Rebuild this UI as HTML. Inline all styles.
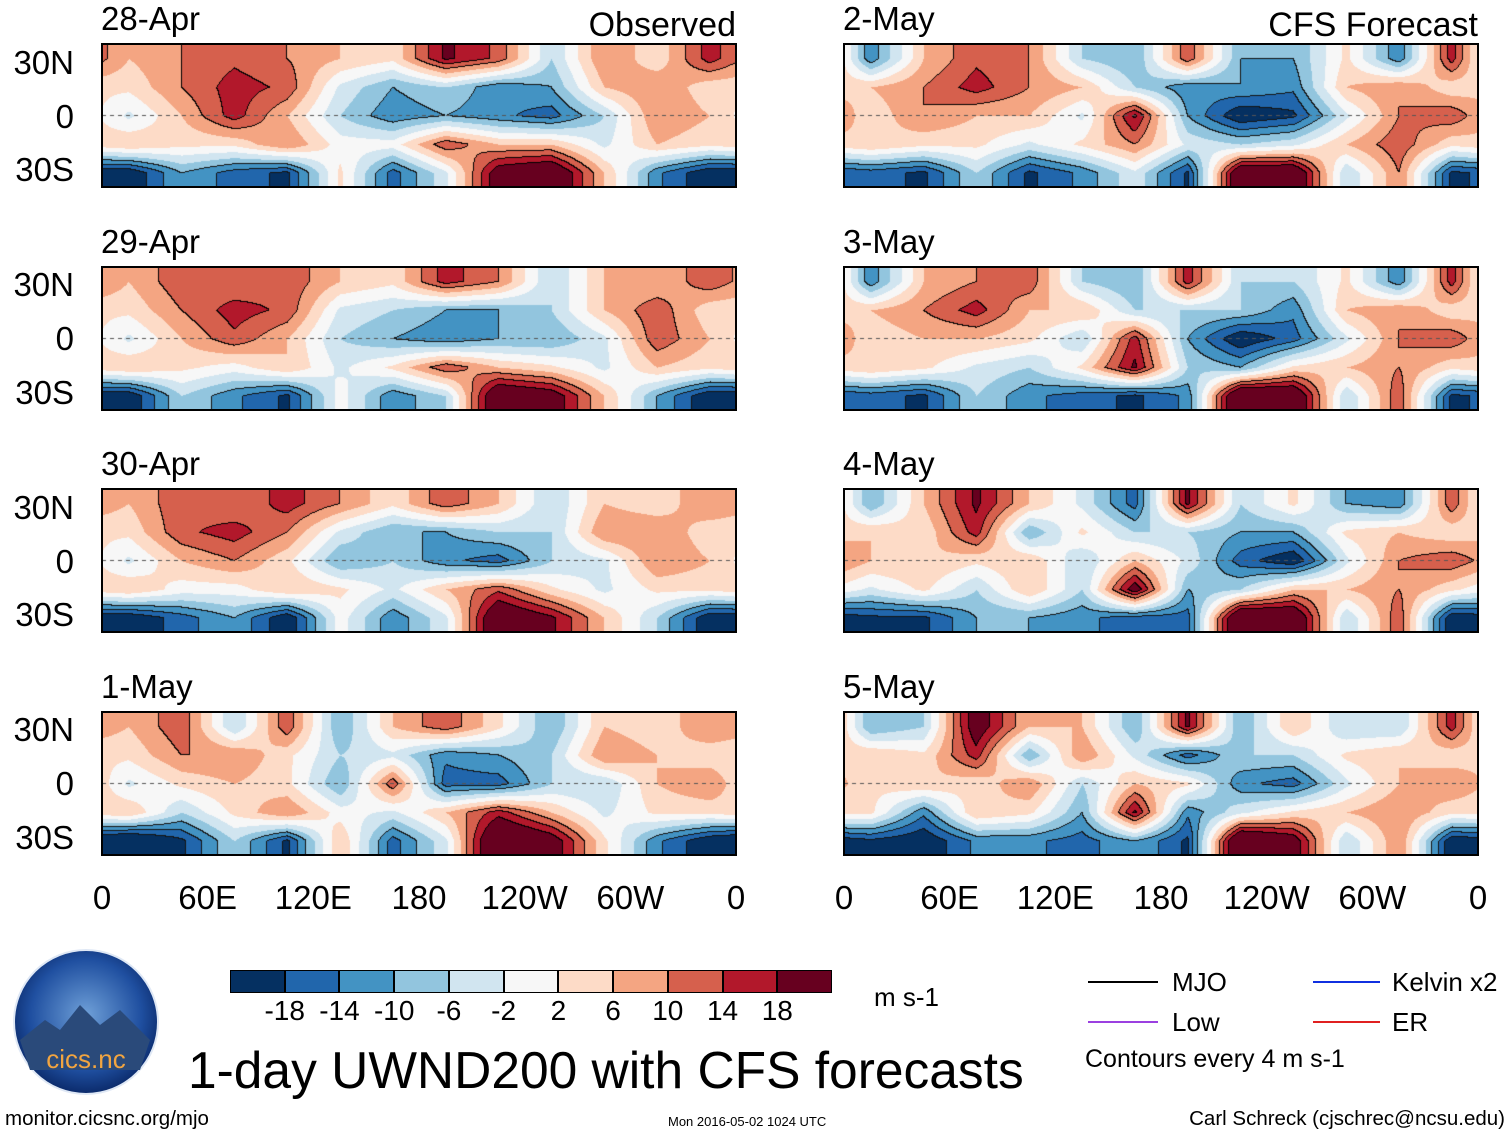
<!DOCTYPE html>
<html><head><meta charset="utf-8">
<style>
body{margin:0;background:#fff;width:1510px;height:1137px;position:relative;overflow:hidden;font-family:"Liberation Sans",sans-serif;color:#000}
.t{position:absolute;white-space:nowrap;line-height:1}
canvas{position:absolute}
.frame{position:absolute;border:2px solid #000;box-sizing:border-box}
</style></head><body>
<svg id="legend" width="1510" height="1137" style="position:absolute;left:0;top:0">
 <defs><radialGradient id="lg" cx="50%" cy="45%" r="55%"><stop offset="0" stop-color="#6fa0d8"/><stop offset="0.7" stop-color="#1f4fa0"/><stop offset="1" stop-color="#0b2a6a"/></radialGradient></defs>
 <g>
  <circle cx="86" cy="1022" r="72" fill="url(#lg)" stroke="#dfe8f5" stroke-width="2"/>
  <path d="M20 1040 L45 1020 L60 1030 L80 1005 L100 1025 L120 1010 L150 1040 L140 1070 L30 1070Z" fill="#2a4a7a"/>
  <text x="86" y="1068" font-size="26" fill="#f2a540" text-anchor="middle" font-family="Liberation Sans">cics.nc</text>
 </g>
 <line x1="1088" y1="982" x2="1158" y2="982" stroke="#000" stroke-width="2"/>
 <line x1="1088" y1="1022" x2="1158" y2="1022" stroke="#9b40e0" stroke-width="2"/>
 <line x1="1313" y1="982" x2="1380" y2="982" stroke="#1030e0" stroke-width="2"/>
 <line x1="1313" y1="1022" x2="1380" y2="1022" stroke="#e02020" stroke-width="2"/>
</svg>
<div class="t" style="left:1172px;top:969px;font-size:26px">MJO</div>
<div class="t" style="left:1172px;top:1009px;font-size:26px">Low</div>
<div class="t" style="left:1392px;top:969px;font-size:26px">Kelvin x2</div>
<div class="t" style="left:1392px;top:1009px;font-size:26px">ER</div>
<div class="t" style="left:1085px;top:1047px;font-size:25px">Contours every 4 m s-1</div>
<div class="t" style="left:188px;top:1045px;font-size:51.5px">1-day UWND200 with CFS forecasts</div>
<div class="t" style="left:874px;top:984px;font-size:26px">m s-1</div>
<div class="t" style="left:5px;top:1109px;font-size:20.5px">monitor.cicsnc.org/mjo</div>
<div class="t" style="left:668px;top:1115px;font-size:13px">Mon 2016-05-02 1024 UTC</div>
<div class="t" style="right:5px;top:1109px;font-size:20.5px">Carl Schreck (cjschrec@ncsu.edu)</div>
<script>
const dates=["28-Apr","29-Apr","30-Apr","1-May","2-May","3-May","4-May","5-May"];
const lonTicks=["0","60E","120E","180","120W","60W","0"];
const latTicks=["30N","0","30S"];
const levels=[-18,-14,-10,-6,-2,2,6,10,14,18];
const colors=["#053061","#2166ac","#4393c3","#92c5de","#d1e5f0","#f7f7f7","#fddbc7","#f4a582","#d6604d","#b2182b","#67001f"];
const lats=[32,16,0,-16,-32];
const f0=[[6,10,13,10,6,3,19,13,-6,10,3,16],[3,10,16,13,-3,-10,-6,-13,-10,6,10,3],[-3,6,16,6,-6,-13,-10,-13,-16,-6,10,6],[6,3,3,10,0,0,13,6,6,-3,6,3],[-22,-10,-16,-19,3,-16,-3,22,26,6,-13,-22]];
const f1=[[6,13,10,13,6,3,16,10,-6,6,6,13],[3,10,16,13,-3,-6,-10,-10,-6,6,13,3],[-3,6,13,6,-6,-10,-13,-10,-10,-3,13,6],[6,3,0,6,-3,3,13,6,3,-3,6,3],[-22,-6,-13,-19,0,-13,-6,26,22,6,-10,-22]];
const f2=[[6,13,10,16,10,3,13,6,-6,6,3,10],[3,13,16,10,-3,-10,-10,-6,-6,10,10,3],[-3,6,10,3,-10,-6,-13,-16,-6,-3,10,6],[6,0,0,6,3,-3,6,13,3,-3,3,3],[-22,-16,-10,-22,0,-13,-3,26,19,6,-6,-22]];
const f3=[[6,13,-6,13,-10,6,13,3,-10,6,3,10],[3,10,10,3,-6,-3,-13,-10,-6,10,6,3],[-3,3,6,3,-10,13,-16,-16,-6,-6,6,10],[6,-6,3,10,0,-3,6,16,6,-3,3,3],[-26,-19,-6,-19,6,-16,-3,29,22,3,-13,-22]];
const f4=[[-13,6,13,10,-6,-10,13,-10,-10,3,-13,16],[6,10,16,10,6,-6,-13,-10,-13,6,10,3],[3,10,6,6,-3,19,-10,-22,-19,-3,10,13],[6,3,3,-3,3,10,-3,-6,-3,6,13,3],[-16,-19,-6,-19,-13,-3,-19,26,26,-6,10,-19]];
const f5=[[-13,6,10,13,-6,-10,16,-6,-6,3,-13,16],[6,10,16,6,6,-6,-6,-6,-13,6,10,3],[3,6,6,3,-6,16,-10,-22,-16,-3,10,13],[6,3,-3,-6,3,19,-6,-10,3,6,10,3],[-16,-19,-6,-13,-16,-19,-13,29,26,-6,13,-19]];
const f6=[[-10,6,19,6,-3,-16,19,-6,3,-10,-13,13],[6,3,16,-10,3,-6,-6,-10,-10,3,6,3],[6,6,3,6,-6,6,-3,-16,-22,-3,10,13],[-3,3,-6,6,-6,22,-10,-6,6,6,10,3],[-19,-19,-10,-10,-13,-16,-16,29,26,-6,13,-22]];
const f7=[[-10,-6,22,6,6,-10,19,-10,6,-6,-6,16],[6,3,16,-10,10,-3,-16,-6,-6,3,6,3],[3,6,3,10,-6,6,3,-13,-16,-3,6,10],[3,-13,6,3,-10,19,-13,-3,3,6,10,3],[-19,-22,-13,-13,-16,-10,-19,29,22,-6,10,-22]];
const fields=[f0,f1,f2,f3,f4,f5,f6,f7];

const root=document.body;
const PW=634,PH=143;
function lonX(lon){return lon/360*PW;}
function latY(lat){return (40-lat)/80*PH;}
function hex(c){return [1,3,5].map(k=>parseInt(c.substr(k,2),16));}
const rgb=colors.map(hex);
function idxOf(v){let i=0;while(i<levels.length&&v>=levels[i])i++;return i;}
function sample(F,lon,lat){
  const nx=F[0].length;
  let fx=lon/(360/nx)-0.5; let i0=Math.floor(fx); let tx=fx-i0;
  const a=((i0%nx)+nx)%nx,b=(a+1)%nx;
  let fy=(lats[0]-lat)/16; if(fy<0)fy=0; if(fy>lats.length-1)fy=lats.length-1;
  let j0=Math.min(Math.floor(fy),lats.length-2); let ty=fy-j0;
  const v0=F[j0][a]*(1-tx)+F[j0][b]*tx, v1=F[j0+1][a]*(1-tx)+F[j0+1][b]*tx;
  return v0*(1-ty)+v1*ty;
}
function el(tag,style,text){const e=document.createElement(tag);e.style.cssText=style;if(text!=null)e.textContent=text;root.appendChild(e);return e;}

dates.forEach((d,p)=>{
  const col=p<4?0:1,row=p%4;
  const X=col?844:102, Y=44+row*222.5;
  const cv=el('canvas',`left:${X}px;top:${Y}px`);
  
  
  cv.width=PW;cv.height=PH;
  const ctx=cv.getContext('2d');const im=ctx.createImageData(PW,PH);
  const F=fields[p];
  const idx=new Int8Array(PW*PH);
  for(let y=0;y<PH;y++)for(let x=0;x<PW;x++){
    idx[y*PW+x]=idxOf(sample(F,x/PW*360,40-y/PH*80));
  }
  for(let y=0;y<PH;y++)for(let x=0;x<PW;x++){
    const k0=y*PW+x,i=idx[k0];let c=rgb[i];
    const r=x<PW-1?idx[k0+1]:i, dn=y<PH-1?idx[k0+PW]:i;
    const edge=(r!==i||dn!==i);
    if(edge){const m=Math.max(i,r,dn),n=Math.min(i,r,dn);
      if(m>=8&&n>=7)c=[0,0,0]; else if(n<=2&&m<=3)c=[20,20,20];}
    const k=k0*4;
    im.data[k]=c[0];im.data[k+1]=c[1];im.data[k+2]=c[2];im.data[k+3]=255;
  }
  ctx.putImageData(im,0,0);
  ctx.setLineDash([4,4]);ctx.strokeStyle='#555';ctx.lineWidth=1;
  ctx.beginPath();ctx.moveTo(0,latY(0));ctx.lineTo(PW,latY(0));ctx.stroke();
  const fr=el('div',`left:${X-1}px;top:${Y-1}px;width:${PW+2}px;height:${PH+2}px`);
  fr.className='frame';
  
  
  const tt=el('div',`left:${X-1}px;top:${Y-42}px;font-size:33px`,d);tt.className='t';
  
  
  if(row===0){
    const lab=el('div',`left:${X}px;width:${PW}px;text-align:right;top:${Y-36}px;font-size:34px`,col?'CFS Forecast':'Observed');lab.className='t';
    
    
  }
  if(col===0){
    [30,0,-30].forEach((lat,i)=>{
      const l=el('div',`left:0px;width:74px;text-align:right;top:${Y+latY(lat)-16}px;font-size:33px`,latTicks[i]);l.className='t';
      
      
    });
  }
  if(row===3){
    lonTicks.forEach((s,i)=>{
      const l=el('div',`left:${X+lonX(i*60)-60}px;width:120px;text-align:center;top:881px;font-size:33px`,s);l.className='t';
      
      
    });
  }
});
const CB_X=230,CB_W=602,CB_Y=970,CB_H=23;
colors.forEach((c,i)=>{
  const b=el('div',`position:absolute;left:${CB_X+i*CB_W/11}px;top:${CB_Y}px;width:${CB_W/11}px;height:${CB_H}px;background:${c};box-sizing:border-box;border:1px solid #000`);
  
  
});
levels.forEach((v,i)=>{
  const l=el('div',`left:${CB_X+(i+1)*CB_W/11-40}px;width:80px;text-align:center;top:997px;font-size:28px`,String(v));l.className='t';
  
  
});
</script>
</body></html>
